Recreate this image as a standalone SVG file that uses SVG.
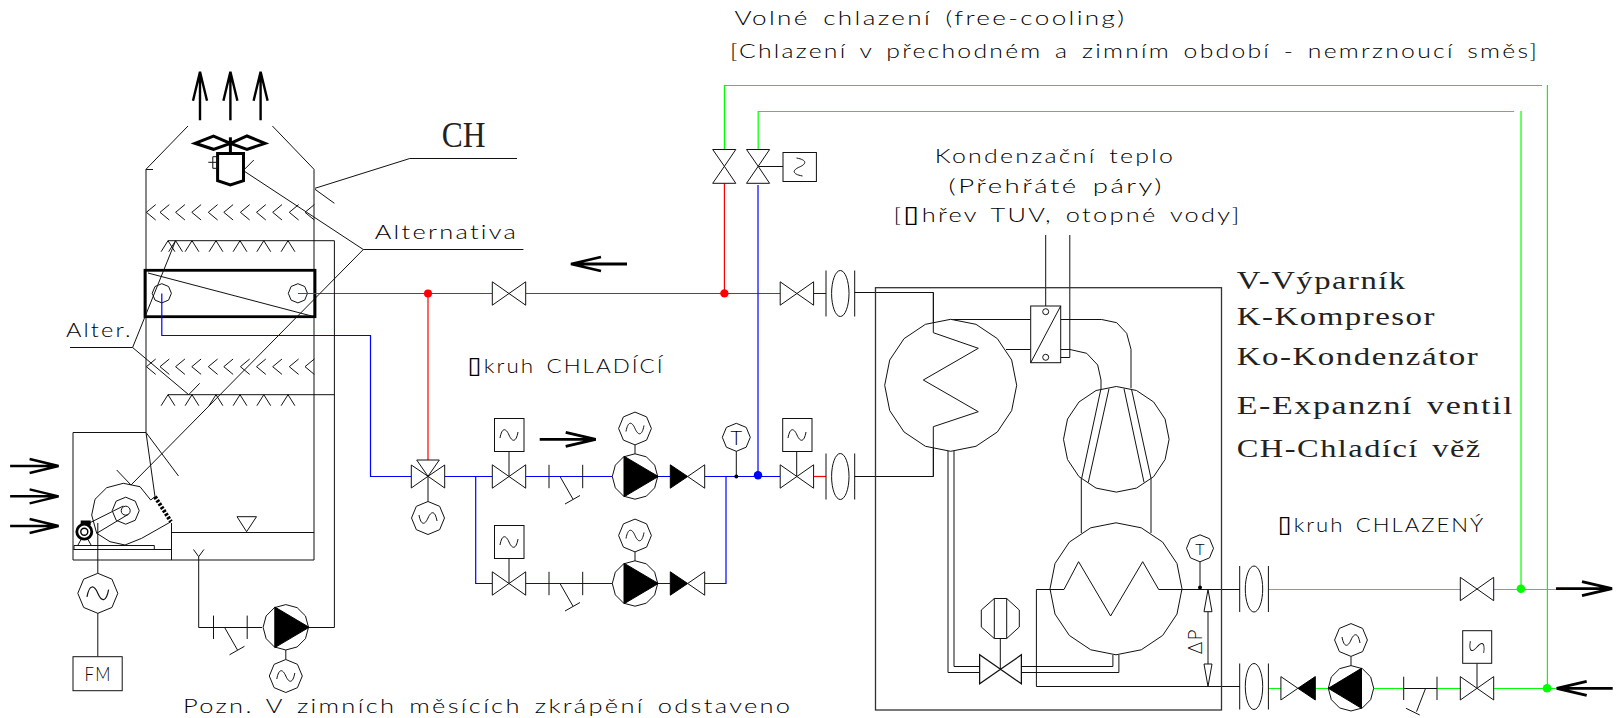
<svg xmlns="http://www.w3.org/2000/svg" width="1618" height="718" viewBox="0 0 1618 718">
<style>
svg{background:#fff}
.l{fill:none;stroke:#111;stroke-width:1}
.w{fill:#fff;stroke:#111;stroke-width:1}
.k{fill:#000;stroke:#000;stroke-width:1}
.t{fill:none;stroke:#000;stroke-width:2.8}
.p{fill:none;stroke-width:1.2;stroke-linejoin:miter}
.r{stroke:#f00}.b{stroke:#00f}.g{stroke:#0f0}
.ns{vector-effect:non-scaling-stroke}
.c{font-family:"Lato","Liberation Sans","DejaVu Sans",sans-serif;font-weight:300;fill:#000;font-size:20px;letter-spacing:1.8px;word-spacing:3px}
.s{font-family:"Liberation Serif","DejaVu Serif",serif;fill:#222;font-size:26px;letter-spacing:1.2px;word-spacing:3px}
.o{font-family:"DejaVu Sans",sans-serif;font-size:23px;font-weight:400}
</style>
<defs>
<polygon id="oct" class="w ns" points="0,-1 .707,-.707 1,0 .707,.707 0,1 -.707,.707 -1,0 -.707,-.707"/>
<polygon id="p12" class="w ns" points="0,-1 .5,-.866 .866,-.5 1,0 .866,.5 .5,.866 0,1 -.5,.866 -.866,.5 -1,0 -.866,-.5 -.5,-.866"/>
<polygon id="p16" class="w ns" points="0,-1 .383,-.924 .707,-.707 .924,-.383 1,0 .924,.383 .707,.707 .383,.924 0,1 -.383,.924 -.707,.707 -.924,.383 -1,0 -.924,-.383 -.707,-.707 -.383,-.924"/>
<path id="valve" class="w" d="M0 0L-16.7 -11.7V11.7ZM0 0L16.7 -11.7V11.7Z"/>
<path id="wave" class="l" d="M-9 3C-7 -8 -3 -7 0 0C3 7 7 8 9 -3"/>
<path id="chev" class="l" d="M9.3 -7.7L0 0L9.3 7.7"/>
<path id="spr" class="l" d="M-6.9 11L0 0L6.9 11"/>
<g id="strainer" class="l"><path class="l" d="M0 -11.7V11.7M33.7 -11.7V11.7"/><path class="l" d="M11 0L24 22.7M16 27.5L31 19"/></g>
<g id="flange"><path class="l" d="M0 -23V23M28.7 -23V23"/><ellipse class="w" cx="14.3" cy="0" rx="8.7" ry="23"/></g>
<g id="pump"><use href="#p12" transform="scale(22.7)"/><path class="k" d="M-11 -20.3L23.3 0L-11 20.3Z"/></g>
<g id="check"><path class="k" d="M0 -11.7L17.4 0L0 11.7Z"/><path class="w" d="M17.4 0L34.4 -11.7V11.7Z"/></g>
<path id="arr50" fill="none" stroke="#000" stroke-width="2.4" d="M-49.5 0H-1M-30 -7L-1 0L-30 7"/>
<path id="arr57" fill="none" stroke="#000" stroke-width="2.8" d="M-57 0H-1M-31 -7L-1 0L-31 7"/>
</defs>

<g id="tower">
<path class="l" d="M188 126L146 169.3V432.5H73V560H314V169.3L272.4 126M146 169.5H153"/>
<path class="l" d="M73.3 549.5H171.5M171.5 523V560M171.5 532.5H314"/>
<path class="l" d="M74 549V545.5H154.3V549"/>
<path class="l" d="M146 432.5L178.5 476M146 432.5L155 496.7"/>
<path class="l" d="M237 516.7H256.5L246.6 531.7Z"/>
<path class="l" d="M193.5 549.5L198.7 556.7L203.9 549.5"/>
<use href="#chev" x="146.4" y="212.3"/><use href="#chev" x="160" y="212.3"/><use href="#chev" x="175.6" y="212.3"/><use href="#chev" x="191.8" y="212.3"/><use href="#chev" x="208.3" y="212.3"/><use href="#chev" x="223.8" y="212.3"/><use href="#chev" x="240.4" y="212.3"/><use href="#chev" x="256.5" y="212.3"/><use href="#chev" x="272.7" y="212.3"/><use href="#chev" x="289.3" y="212.3"/><use href="#chev" x="305" y="212.3"/>
<use href="#chev" x="146.4" y="366.7"/><use href="#chev" x="160" y="366.7"/><use href="#chev" x="175.6" y="366.7"/><use href="#chev" x="191.8" y="366.7"/><use href="#chev" x="208.3" y="366.7"/><use href="#chev" x="223.8" y="366.7"/><use href="#chev" x="240.4" y="366.7"/><use href="#chev" x="256.5" y="366.7"/><use href="#chev" x="272.7" y="366.7"/><use href="#chev" x="289.3" y="366.7"/><use href="#chev" x="305" y="366.7"/>
<use href="#spr" x="168" y="240.7"/><use href="#spr" x="175.6" y="240.7"/><use href="#spr" x="192" y="240.7"/><use href="#spr" x="216" y="240.7"/><use href="#spr" x="240" y="240.7"/><use href="#spr" x="263.8" y="240.7"/><use href="#spr" x="288" y="240.7"/>
<use href="#spr" x="168" y="394.7"/><use href="#spr" x="192" y="394.7"/><use href="#spr" x="216" y="394.7"/><use href="#spr" x="240" y="394.7"/><use href="#spr" x="263.8" y="394.7"/><use href="#spr" x="288" y="394.7"/>
</g>

<g id="tower-coil">
<rect class="t" x="145" y="270.3" width="170" height="46.4"/>
<path class="l" d="M148 273L311.6 316"/>
<polygon class="l" points="161.8,283.7 168.6,286.5 171.4,293.3 168.6,300.1 161.8,302.9 155,300.1 152.2,293.3 155,286.5"/>
<polygon class="l" points="297.9,283.7 304.7,286.5 307.5,293.3 304.7,300.1 297.9,302.9 291.1,300.1 288.3,293.3 291.1,286.5"/>
</g>

<g id="connectors">
<path class="p r" d="M298 293.5H492.4M525.5 293.5H780.2M428 293.5V460M724.4 183.3V293.5"/>
<path class="p b" d="M161.8 293.5V335.5H370.5V476.5H411.3M444.7 476.5H492M525.7 476.5H624M658 476.5H670.3M704.7 476.5H780.3M475.7 476.5V583.5H492M525.7 583.5H624M658 583.5H670.3M704.7 583.5H726V476.5M758 185V475M813.6 293.5H826"/>
<path class="p r" d="M813.7 476.5H826"/>
<path class="p g" d="M724.4 149.3V85.5H1542M758.2 149.3V111.5H1514M1547.4 85V688M1521 111V588.5M1268.6 589.5H1460.4M1493.9 589.5H1556M1268.6 688.5H1281.4M1315.3 688.5H1328M1373.9 688.5H1403.7M1437 688.5H1460.4M1493.9 688.5H1556"/>
<path class="l" d="M854.6 292.5H933.4V333M854.6 476.5H933.4V427"/>
<path class="l" d="M1045.7 235V308.7M1069.8 235V357.5H1048.7"/>
<path class="l" d="M950.7 319.5H1030.7M1006 349.5H1030.7"/>
<path class="l" d="M1060.7 319.5H1101.7L1116.7 322.7L1126.7 333.3L1131 349.3V388.3"/>
<path class="l" d="M1060.7 349.5H1070L1086.7 353.3L1097.7 365L1101 380V390"/>
<path class="l" d="M1081.3 478V533M1151 478V533"/>
<path class="l" d="M948 451V672.5H979.7M954 451V666.5H979.7M1021.3 666.5H1112.9V655M1021.3 672.5H1118.9V655"/>
<path class="l" d="M1158.7 589.5H1240M1036.4 589.5V686.5H1240"/>
<path class="l" d="M198.7 556.7V627.5H262M308.5 627.5H334.4V240.7H168M334.4 394.7H168"/>
<path class="l" d="M97.8 523V573M97.8 613V656.7"/>
<path class="l" d="M758.2 166.5H783"/>
<path id="leader-ch" class="l" d="M517 158.5H409.8L315 188.3M315 189.3L334.4 203.3"/>
<path id="leader-alt" class="l" d="M523.4 249.5H363.3L243.5 170.7M363.3 249.5L131 485M116.7 470L131 485"/>
<path id="leader-alter" class="l" d="M70 347.5H132.6L175.6 240.7M132.6 347.5L188.7 394.7M199.7 383.3L188.7 394.7"/>
</g>

<g id="tower-fan">
<path fill="#fff" stroke="#000" stroke-width="3" d="M195 143.3L213.5 136L230.4 143.3L213.5 149.3ZM230.4 143.3L247 136L265 143.3L247 149.3Z"/>
<path fill="none" stroke="#000" stroke-width="3" d="M230.4 137.3V153.3"/>
<path fill="#fff" stroke="#000" stroke-width="3" d="M217.6 153.5H243.5V180.7L230.4 185L217.6 180.7Z"/>
<path class="l" d="M212.8 156.7H217.6V168.3H212.8ZM208.3 162.3H217.6M243.5 170.3L253.8 160"/>
</g>
<g id="outlet-arrows">
<use href="#arr50" transform="translate(200 70.7) rotate(-90)"/>
<use href="#arr50" transform="translate(230.4 70.7) rotate(-90)"/>
<use href="#arr50" transform="translate(260.6 70.7) rotate(-90)"/>
</g>
<g id="inlet-arrows">
<use href="#arr50" x="59.6" y="466"/>
<use href="#arr50" x="59.6" y="496.3"/>
<use href="#arr50" x="59.6" y="526"/>
</g>

<g id="blower">
<path class="l" d="M150.7 500L140 486.7L123.3 483.3L106.7 487.7L95 499.3L91.7 515L96.7 533.3L110 541.7L125 545L141.7 538.3L171 521.7M150.7 500L155 496.7"/>
<path fill="none" stroke="#000" stroke-width="4" stroke-dasharray="2.5 1.5" d="M155 496.7L171 521.7"/>
<use href="#oct" transform="translate(125.7 510.7) scale(13.5)"/>
<circle class="w" cx="125.7" cy="510.7" r="4.5"/>
<path class="l" d="M90 522.7L123.3 506M96.7 533.3L128.3 514.3"/>
<circle cx="84.3" cy="531.7" r="7.5" fill="#fff" stroke="#000" stroke-width="2.8"/>
<circle cx="84.3" cy="531.7" r="3.5" fill="#fff" stroke="#000" stroke-width="1.4"/>
<rect x="80.7" y="520.5" width="10" height="4.5" fill="#000"/>
<path class="l" d="M78 545L81 539.5M91 545L88 539.5"/>
</g>

<g id="fan-motor-control"><use href="#oct" transform="translate(97.8 593.3) scale(20)"/><use href="#wave" transform="translate(97.8 593.3) scale(1.2)"/></g>
<g id="FM"><rect class="w" x="73" y="656.7" width="49.2" height="34"/><text class="c" x="84.4" y="681" textLength="27.6" lengthAdjust="spacingAndGlyphs">FM</text></g>
<g id="spray-pump">
<use href="#strainer" x="213.5" y="627.3"/>
<path class="l" d="M285.8 649.3V659.5"/>
<use href="#pump" transform="translate(285.8 627.3)"/>
<use href="#oct" transform="translate(285.8 676) scale(16.5)"/><use href="#wave" transform="translate(285.8 676)"/>
</g>

<g id="bypass-valve">
<use href="#valve" x="509" y="293.5"/>
</g>
<g id="three-way-valve">
<path class="l" d="M428 476.3V501.7"/>
<path class="w" d="M428 476.3L411.3 465V488ZM428 476.3L444.7 465V488ZM428 476.3L416.7 460H439.3Z"/>
<use href="#oct" transform="translate(428 518) scale(16.5)"/><use href="#wave" transform="translate(428 518) scale(1 -1)"/>
</g>

<g id="pump-branch-1">
<path class="l" d="M509 451.7V476.5"/><use href="#valve" x="509" y="476.5"/>
<rect class="w" x="494.5" y="418.5" width="29.5" height="33"/><use href="#wave" x="509" y="435"/>
<use href="#strainer" x="549" y="476.5"/>
<path class="l" d="M635 445V454"/>
<use href="#oct" transform="translate(635 428.5) scale(16.4)"/><use href="#wave" x="635" y="428.5"/>
<use href="#pump" x="635" y="476.5"/>
<use href="#check" x="670.3" y="476.5"/>
</g>
<g id="pump-branch-2">
<path class="l" d="M509 558.5V583.5"/><use href="#valve" x="509" y="583.5"/>
<rect class="w" x="494.5" y="525.5" width="29.5" height="33"/><use href="#wave" x="509" y="542"/>
<use href="#strainer" x="549" y="583.5"/>
<path class="l" d="M635 552V561"/>
<use href="#oct" transform="translate(635 535.5) scale(16.4)"/><use href="#wave" x="635" y="535.5"/>
<use href="#pump" x="635" y="583.5"/>
<use href="#check" x="670.3" y="583.5"/>
</g>
<g id="temp-sensor-1">
<path class="l" d="M736.3 451V476.5"/><circle cx="736.3" cy="476.5" r="2" fill="#000"/>
<use href="#oct" transform="translate(736.3 437.3) scale(14)"/>
<text class="c" x="736.3" y="445" text-anchor="middle" style="font-size:20px;letter-spacing:0">T</text>
</g>
<g id="evap-in-valve">
<path class="l" d="M796.7 451.7V476.5"/><use href="#valve" x="796.9" y="476.5"/>
<rect class="w" x="782.7" y="418.5" width="29.3" height="33"/><use href="#wave" x="797" y="435"/>
<use href="#flange" x="826" y="476.5"/>
</g>
<g id="evap-out-valve">
<use href="#valve" x="796.9" y="293.5"/>
<use href="#flange" x="826" y="293.5"/>
</g>
<g id="free-cooling-valves">
<path class="w" d="M724.4 166.3L712.7 149.5H735.8ZM724.4 166.3L712.7 183.3H735.8Z"/>
<path class="w" d="M758.2 166.3L746.5 149.5H769.6ZM758.2 166.3L746.5 183.3H769.6Z"/>
<rect class="w" x="783" y="152.5" width="33.4" height="29"/>
<use href="#wave" transform="translate(799.5 167) rotate(90)"/>
</g>
<g id="junctions">
<circle cx="428" cy="293.4" r="4" fill="#f00"/>
<circle cx="724.4" cy="293.4" r="4.2" fill="#f00"/>
<circle cx="758" cy="475.3" r="4.2" fill="#00f"/>
<circle cx="1520.9" cy="588.7" r="4.3" fill="#0f0"/>
<circle cx="1547" cy="688.3" r="4.3" fill="#0f0"/>
</g>

<g id="chiller-frame"><rect class="l" x="875.5" y="287.7" width="346" height="422.3" style="stroke:#333;stroke-width:1.3"/></g>
<g id="evaporator">
<use href="#p16" transform="translate(950.7 385.3) scale(66)"/>
<path class="l" d="M933.3 292.5V332.7L978.3 348.3L923.3 380L978.3 411.7L933.3 426.7V476.5"/>
</g>
<g id="desuperheater">
<rect class="w" x="1030.7" y="306" width="30" height="56.7"/>
<path class="l" d="M1030.7 362.7L1060.7 306"/>
<circle class="w" cx="1045.7" cy="311.7" r="3"/><circle class="w" cx="1045.7" cy="357.3" r="3"/>
</g>
<g id="compressor">
<use href="#p16" transform="translate(1116.3 439.3) scale(52.8)"/>
<path class="l" d="M1100.7 390L1081.7 478.3M1109 388.7L1088.3 482.3M1124 388.7L1144 482.3M1131.7 390L1151 478.3"/>
</g>
<g id="condenser">
<use href="#p16" transform="translate(1116 588.8) scale(66)"/>
<path class="l" d="M1036.4 589.5H1064L1078.6 561.7L1110.6 616L1142.7 561.7L1158.7 589.5H1182"/>
</g>
<g id="expansion-valve">
<path class="l" d="M1000.3 638.3V669.3"/>
<use href="#valve" transform="translate(1000.5 669.3) scale(1.25 1.24)"/>
<polygon class="w" points="994.3,598.5 1006.7,598.5 1019.3,610 1019.3,627 1006.7,638.5 994.3,638.5 981.3,627 981.3,610"/>
<path class="l" d="M994.3 598.5V638.5M1006.7 598.5V638.5"/>
</g>
<g id="temp-sensor-2">
<path class="l" d="M1200 562V588"/><circle cx="1200" cy="587.5" r="2" fill="#000"/>
<use href="#oct" transform="translate(1200 548.3) scale(13.5)"/>
<text class="c" x="1200" y="555" text-anchor="middle" style="font-size:16px;letter-spacing:0">T</text>
</g>
<g id="delta-p">
<path class="l" d="M1208 611.7V664"/>
<path class="w" d="M1208 589.5L1204 611.7H1212ZM1208 686.5L1204 664H1212Z"/>
<text class="c" transform="translate(1202 654) rotate(-90)" textLength="26" lengthAdjust="spacingAndGlyphs">ΔP</text>
</g>
<g id="cond-flanges">
<use href="#flange" x="1239.7" y="589"/>
<use href="#flange" x="1239.7" y="686.5"/>
</g>
<g id="chilled-valve"><use href="#valve" x="1477" y="589"/></g>
<g id="chilled-return">
<use href="#check" transform="translate(1315.3 688.3) scale(-1 1)"/>
<path class="l" d="M1351 656.5V666"/>
<use href="#oct" transform="translate(1351 640) scale(16.4)"/><use href="#wave" transform="translate(1351 640) scale(1 -1)"/>
<use href="#p12" transform="translate(1351 688.3) scale(22.7)"/>
<path class="k" d="M1328.3 688.3L1361.5 668.3V708.3Z"/>
<path class="l" d="M1403.7 676.7V700M1437 676.7V700M1425.6 688.3L1416.5 711.7M1406 708.3L1419.7 715"/>
<path class="l" d="M1403.7 688.5H1437"/>
<path class="l" d="M1477 663.3V688"/><use href="#valve" x="1477" y="688.3"/>
<rect class="w" x="1462.7" y="630.7" width="29" height="32.6"/>
<use href="#wave" transform="translate(1477 647) scale(.9 -1) rotate(-20)"/>
</g>
<g id="flow-arrows">
<use href="#arr57" x="596.7" y="439.3"/>
<use href="#arr57" transform="translate(570 264) rotate(180)"/>
<use href="#arr57" x="1613" y="588.7"/>
<use href="#arr57" transform="translate(1555.7 688.3) rotate(180)"/>
</g>

<g id="labels">
<text class="c" x="734.4" y="25" textLength="392" lengthAdjust="spacingAndGlyphs">Volné chlazení (free-cooling)</text>
<text class="c" x="730" y="58.3" textLength="809" lengthAdjust="spacingAndGlyphs">[Chlazení v přechodném a zimním období - nemrznoucí směs]</text>
<text class="c" x="934.8" y="163.3" textLength="240.4" lengthAdjust="spacingAndGlyphs">Kondenzační teplo</text>
<text class="c" x="948.6" y="192.7" textLength="215.2" lengthAdjust="spacingAndGlyphs">(Přehřáté páry)</text>
<text class="c" x="893.5" y="221.7" textLength="348" lengthAdjust="spacingAndGlyphs">[<tspan class="o">▯</tspan>hřev TUV, otopné vody]</text>
<text class="c" x="374.7" y="239.3" textLength="143.5" lengthAdjust="spacingAndGlyphs">Alternativa</text>
<text class="c" x="66" y="337.3" textLength="66.6" lengthAdjust="spacingAndGlyphs">Alter.</text>
<text class="c" x="467.6" y="372.7" textLength="197" lengthAdjust="spacingAndGlyphs"><tspan class="o">▯</tspan>kruh CHLADÍCÍ</text>
<text class="c" x="1277.7" y="532.3" textLength="207.5" lengthAdjust="spacingAndGlyphs"><tspan class="o">▯</tspan>kruh CHLAZENÝ</text>
<text class="c" x="183" y="713.3" textLength="609.4" lengthAdjust="spacingAndGlyphs">Pozn. V zimních měsících zkrápění odstaveno</text>
<text class="s" x="441.8" y="146.7" textLength="43.7" lengthAdjust="spacingAndGlyphs" style="font-size:35px;letter-spacing:0">CH</text>
<text class="s" x="1236.7" y="289.3" textLength="170" lengthAdjust="spacingAndGlyphs">V-Výparník</text>
<text class="s" x="1236.7" y="325" textLength="199.3" lengthAdjust="spacingAndGlyphs">K-Kompresor</text>
<text class="s" x="1236.7" y="365" textLength="242.6" lengthAdjust="spacingAndGlyphs">Ko-Kondenzátor</text>
<text class="s" x="1236.7" y="414" textLength="277.3" lengthAdjust="spacingAndGlyphs">E-Expanzní ventil</text>
<text class="s" x="1236.7" y="457.3" textLength="245" lengthAdjust="spacingAndGlyphs">CH-Chladící věž</text>
</g>
</svg>
